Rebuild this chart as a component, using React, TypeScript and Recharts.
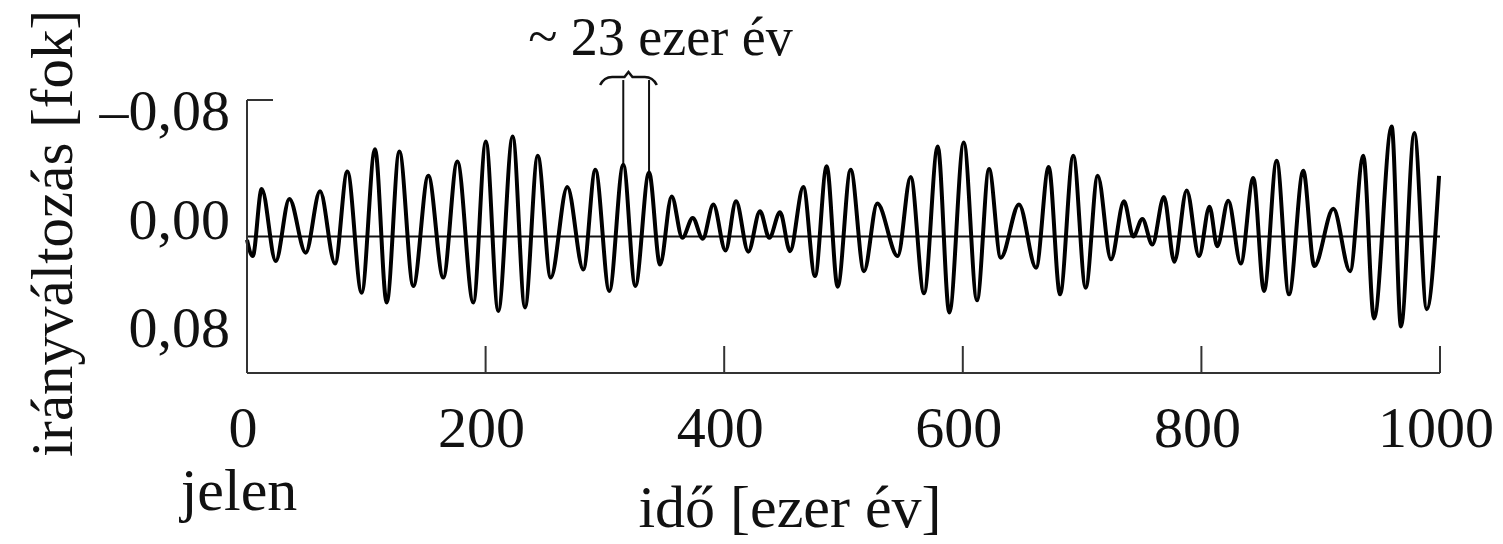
import React from 'react';
import { LineChart, Line, XAxis, YAxis, ReferenceLine } from 'recharts';

// time before present [thousand years] at each turning point of the curve
const timeKyr = [
  0, 4.8, 12.3, 24.1, 35.5, 49.2, 61.2, 73.8, 84.1, 96.1,
  107.3, 117.1, 127.7, 139.4, 152.0, 164.5, 176.3, 189.7, 200.2, 210.6,
  222.7, 233.0, 243.7, 254.6, 268.5, 281.9, 292.0, 303.7, 315.4, 325.5,
  337.0, 346.2, 356.0, 364.9, 373.6, 382.0, 390.9, 401.1, 409.9, 420.2,
  430.0, 437.8, 446.8, 455.2, 466.3, 476.1, 485.9, 495.1, 506.0, 517.2,
  528.3, 545.4, 556.3, 567.5, 579.0, 588.7, 600.8, 611.9, 622.0, 631.8,
  647.1, 661.4, 672.0, 681.5, 692.6, 703.0, 713.1, 724.2, 735.1, 742.9,
  750.5, 758.9, 768.6, 777.3, 787.7, 798.0, 806.8, 813.3, 822.5, 833.0,
  843.5, 852.5, 863.1, 873.4, 885.4, 894.6, 910.6, 924.6, 935.7, 944.7,
  959.5, 967.3, 978.5, 988.9, 999.2,
];

// direction change [degrees] (axis: -0,08 at top, 0,08 at bottom)
const deviation = [
  0.002, 0.0115, -0.0279, 0.0144, -0.022, 0.0095, -0.0265, 0.0158, -0.0381, 0.0329,
  -0.0512, 0.0387, -0.0498, 0.029, -0.0356, 0.0241, -0.044, 0.0387, -0.0557, 0.0436,
  -0.0586, 0.0416, -0.0473, 0.0241, -0.029, 0.0193, -0.0391, 0.0319, -0.042, 0.029,
  -0.0375, 0.0164, -0.0235, 0.0008, -0.0109, 0.0013, -0.0187, 0.0082, -0.0206, 0.0089,
  -0.0148, 0.0008, -0.0142, 0.0086, -0.029, 0.0232, -0.0411, 0.0294, -0.0391, 0.0203,
  -0.0193, 0.0115, -0.0349, 0.0333, -0.0527, 0.0446, -0.0551, 0.0374, -0.0395, 0.0124,
  -0.0187, 0.0183, -0.0407, 0.0339, -0.0473, 0.03, -0.0356, 0.0134, -0.0206, 0.0,
  -0.0103, 0.0047, -0.0232, 0.0148, -0.027, 0.0115, -0.0175, 0.0057, -0.021, 0.0158,
  -0.0343, 0.0319, -0.0444, 0.0339, -0.0385, 0.0173, -0.0162, 0.0203, -0.0473, 0.0481,
  -0.0644, 0.0527, -0.0606, 0.0426, -0.0356,
];

const xTicks = [0, 200, 400, 600, 800, 1000];
const xTickLabels = ['0', '200', '400', '600', '800', '1000'];
const yTicks = [-0.08, 0, 0.08];
const yTickLabels = ['–0,08', '0,00', '0,08'];

const annotPeakTimes = [315.4, 337.0];
const annotPeakValues = [-0.042, -0.0375];
const braceSpan = [296, 343.5];
const braceLevel = -0.0917;
const annotText = '~ 23 ezer év';
const xLabel = 'idő [ezer év]';
const yLabel = 'irányváltozás [fok]';
const presentLabel = 'jelen';

const data = timeKyr.map((t, i) => ({ t, v: deviation[i] }));

const FONT = '"Liberation Serif", "Times New Roman", Times, serif';
const TEXT = '#111';
const AXIS = '#333';

const XTick = (props: any) => {
  const { x, y, payload } = props;
  const idx = xTicks.findIndex((v) => Math.abs(v - payload.value) < 1e-9);
  return (
    <g>
      {payload.value !== 0 && (
        <line x1={x} x2={x} y1={y} y2={y - 27} stroke={AXIS} strokeWidth={2} />
      )}
      <text x={x - 4} y={y + 74} textAnchor="middle" fontSize={58} fontFamily={FONT} fill={TEXT}>
        {xTickLabels[idx]}
      </text>
      {payload.value === 0 && (
        <text x={x - 8} y={y + 137} textAnchor="middle" fontSize={60} fontFamily={FONT} fill={TEXT}>
          {presentLabel}
        </text>
      )}
    </g>
  );
};

const yLabelOffsets = [30, 2.5, -26];

const YTick = (props: any) => {
  const { x, y, payload } = props;
  const idx = yTicks.findIndex((v) => Math.abs(v - payload.value) < 1e-9);
  return (
    <g>
      {idx === 0 && <line x1={x} x2={x + 26} y1={y} y2={y} stroke={AXIS} strokeWidth={2} />}
      <text x={x - 17} y={y + yLabelOffsets[idx]} textAnchor="end" fontSize={58} fontFamily={FONT} fill={TEXT}>
        {yTickLabels[idx]}
      </text>
    </g>
  );
};

const BraceShape = (props: any) => {
  const { x1, y1, x2 } = props;
  const y = y1;
  const xm = x1 + (x2 - x1) * 0.5;
  const d = `M ${x1} ${y + 5} Q ${x1 + 4} ${y - 3} ${x1 + 12} ${y - 3} L ${xm - 4} ${y - 3} L ${xm} ${y - 8} L ${xm + 4} ${y - 3} L ${x2 - 12} ${y - 3} Q ${x2 - 4} ${y - 3} ${x2} ${y + 5}`;
  return (
    <g>
      <path d={d} fill="none" stroke={TEXT} strokeWidth={2.5} />
      <text x={x1 - 72} y={y - 25} fontSize={54} fontFamily={FONT} fill={TEXT}>
        {annotText}
      </text>
    </g>
  );
};

const YLabel = (props: any) => {
  const vb = props.viewBox || { x: 0, y: 100, width: 247, height: 273 };
  const cx = vb.x + 72;
  const cy = vb.y + vb.height / 2 - 3;
  return (
    <text
      x={cx}
      y={cy}
      transform={`rotate(-90, ${cx}, ${cy})`}
      textAnchor="middle"
      fontSize={59}
      fontFamily={FONT}
      fill={TEXT}
    >
      {yLabel}
    </text>
  );
};

const XLabel = (props: any) => {
  const vb = props.viewBox || { x: 247, y: 373, width: 1193, height: 171 };
  return (
    <text x={vb.x + 543} y={vb.y + 154} textAnchor="middle" fontSize={60} fontFamily={FONT} fill={TEXT}>
      {xLabel}
    </text>
  );
};

export default function App() {
  return (
    <div style={{ position: 'absolute', left: 0, top: 0, width: 1503, height: 544, background: '#fff' }}>
      <LineChart width={1503} height={544} data={data} margin={{ top: 100, right: 63, bottom: 0, left: 0 }}>
        <XAxis
          dataKey="t"
          type="number"
          domain={[0, 1000]}
          ticks={xTicks}
          height={171}
          tickLine={false}
          tickSize={0}
          tickMargin={0}
          axisLine={{ stroke: AXIS, strokeWidth: 2 }}
          tick={<XTick />}
          interval={0}
          label={{ content: <XLabel /> } as any}
        />
        <YAxis
          type="number"
          domain={[-0.08, 0.08]}
          reversed
          allowDataOverflow
          ticks={yTicks}
          width={247}
          tickLine={false}
          tickSize={0}
          tickMargin={0}
          axisLine={{ stroke: AXIS, strokeWidth: 2 }}
          tick={<YTick />}
          interval={0}
          label={{ content: <YLabel /> } as any}
        />
        <ReferenceLine y={0} stroke={TEXT} strokeWidth={2} />
        {annotPeakTimes.map((t, i) => (
          <ReferenceLine
            key={`v${i}`}
            segment={[{ x: t, y: annotPeakValues[i] }, { x: t, y: braceLevel }]}
            stroke={TEXT}
            strokeWidth={2}
            ifOverflow="visible"
          />
        ))}
        <ReferenceLine
          segment={[{ x: braceSpan[0], y: braceLevel }, { x: braceSpan[1], y: braceLevel }]}
          ifOverflow="visible"
          shape={(p: any) => <BraceShape {...p} />}
        />
        <Line
          type="monotone"
          dataKey="v"
          stroke="#000"
          strokeWidth={4}
          strokeLinejoin="round"
          dot={false}
          isAnimationActive={false}
        />
      </LineChart>
    </div>
  );
}
